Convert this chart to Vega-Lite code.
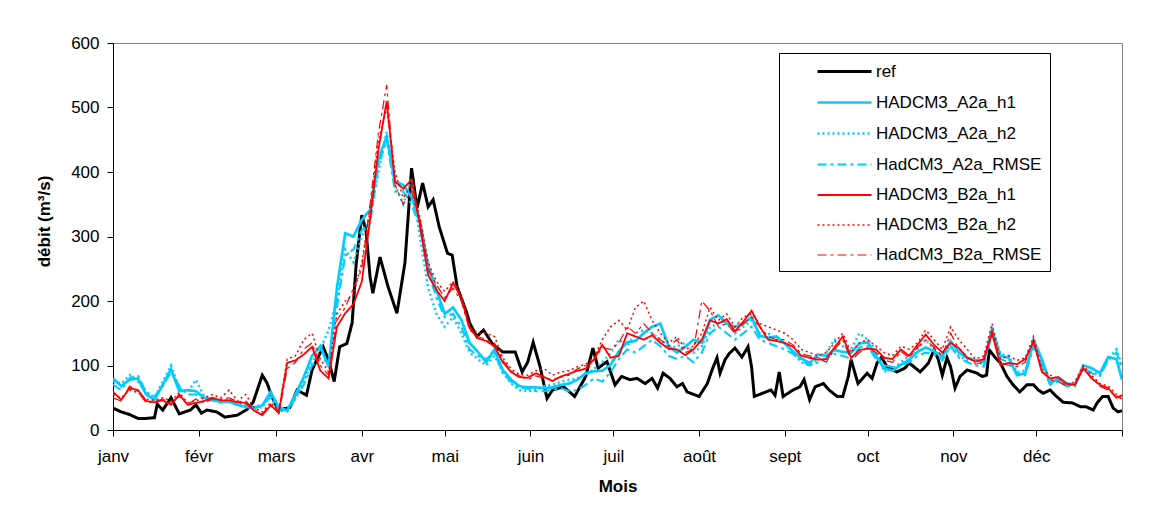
{
  "$schema": "https://vega.github.io/schema/vega-lite/v6.json",
  "autosize": {"type": "none"},
  "padding": {"left": 113, "top": 43, "right": 34, "bottom": 85},
  "width": 1009,
  "height": 387,
  "background": "white",
  "config": {
    "font": "Liberation Sans",
    "view": {"stroke": "#808080", "strokeWidth": 1}
  },
  "data": {"values": [
    {"d":0,"k0":34},{"d":3,"k0":28},{"d":6,"k0":24},{"d":9,"k0":18},{"d":12,"k0":18},{"d":15,"k0":19},{"d":16,"k0":40},{"d":18,"k0":31},{"d":21,"k0":50},{"d":24,"k0":25},{"d":28,"k0":31},{"d":30,"k0":39},{"d":32,"k0":26},{"d":34,"k0":31},{"d":37.5,"k0":28},{"d":40.5,"k0":20},{"d":45,"k0":23},{"d":48.5,"k0":32},{"d":50.7,"k0":43},{"d":54,"k0":85},{"d":55.7,"k0":73},{"d":57.5,"k0":52},{"d":59.7,"k0":31},{"d":62,"k0":33},{"d":64,"k0":35},{"d":66.6,"k0":62},{"d":70,"k0":54},{"d":72,"k0":93},{"d":76,"k0":129},{"d":78,"k0":108},{"d":80,"k0":75},{"d":82,"k0":129},{"d":84.6,"k0":134},{"d":86.5,"k0":166},{"d":88,"k0":259},{"d":90,"k0":333},{"d":91.5,"k0":310},{"d":93,"k0":237},{"d":94,"k0":212},{"d":96.6,"k0":268},{"d":99.5,"k0":222},{"d":102.7,"k0":181},{"d":105.6,"k0":259},{"d":108,"k0":406},{"d":110,"k0":344},{"d":112,"k0":383},{"d":114,"k0":346},{"d":115.8,"k0":357},{"d":118,"k0":315},{"d":121,"k0":274},{"d":122.7,"k0":271},{"d":124.5,"k0":222},{"d":128,"k0":181},{"d":129,"k0":166},{"d":131.6,"k0":145},{"d":134,"k0":155},{"d":137.5,"k0":132},{"d":141,"k0":121},{"d":145.5,"k0":121},{"d":148,"k0":90},{"d":150,"k0":105},{"d":152,"k0":136},{"d":154.5,"k0":98},{"d":157,"k0":49},{"d":159,"k0":62},{"d":163,"k0":67},{"d":167,"k0":52},{"d":171,"k0":83},{"d":173.6,"k0":127},{"d":175.5,"k0":96},{"d":178.7,"k0":106},{"d":181.6,"k0":70},{"d":184,"k0":83},{"d":187,"k0":78},{"d":189.6,"k0":80},{"d":192.5,"k0":72},{"d":195,"k0":80},{"d":197,"k0":65},{"d":199,"k0":88},{"d":201.5,"k0":80},{"d":204,"k0":67},{"d":206,"k0":72},{"d":207.7,"k0":59},{"d":212,"k0":52},{"d":215,"k0":72},{"d":216.7,"k0":93},{"d":218.5,"k0":112},{"d":219.6,"k0":88},{"d":221.4,"k0":109},{"d":223,"k0":119},{"d":225,"k0":127},{"d":227.5,"k0":113},{"d":229.7,"k0":129},{"d":231,"k0":98},{"d":232,"k0":52},{"d":235,"k0":57},{"d":238,"k0":62},{"d":239.5,"k0":54},{"d":241,"k0":90},{"d":242.4,"k0":52},{"d":246,"k0":62},{"d":248.5,"k0":67},{"d":250,"k0":78},{"d":252,"k0":47},{"d":254,"k0":67},{"d":257,"k0":72},{"d":259,"k0":62},{"d":262,"k0":52},{"d":264,"k0":52},{"d":266,"k0":83},{"d":267,"k0":109},{"d":269.5,"k0":72},{"d":272.8,"k0":88},{"d":274.6,"k0":80},{"d":276.4,"k0":104},{"d":278,"k0":113},{"d":280,"k0":98},{"d":283.6,"k0":90},{"d":286.5,"k0":96},{"d":288,"k0":104},{"d":292,"k0":90},{"d":295,"k0":104},{"d":297,"k0":124},{"d":298.5,"k0":110},{"d":300,"k0":85},{"d":301.7,"k0":112},{"d":303,"k0":98},{"d":304.6,"k0":65},{"d":306.4,"k0":83},{"d":309,"k0":93},{"d":312.6,"k0":88},{"d":314.4,"k0":83},{"d":316,"k0":85},{"d":317,"k0":124},{"d":319,"k0":113},{"d":321,"k0":104},{"d":323.4,"k0":83},{"d":325.6,"k0":70},{"d":328,"k0":59},{"d":330.6,"k0":70},{"d":333,"k0":70},{"d":334.7,"k0":62},{"d":336.5,"k0":57},{"d":339,"k0":62},{"d":340.8,"k0":54},{"d":343.7,"k0":43},{"d":347,"k0":42},{"d":350,"k0":36},{"d":352,"k0":36},{"d":354.6,"k0":31},{"d":356,"k0":42},{"d":358,"k0":52},{"d":360,"k0":52},{"d":361.8,"k0":34},{"d":363.6,"k0":28},{"d":365,"k0":30},
    {"d":0,"k1":80,"k2":75,"k3":70,"k4":59,"k5":55,"k6":50},
    {"d":3,"k1":68,"k2":72,"k3":62,"k4":47,"k5":50,"k6":45},
    {"d":6,"k1":78,"k2":85,"k3":80,"k4":65,"k5":62,"k6":68},
    {"d":9,"k1":80,"k2":75,"k3":85,"k4":62,"k5":58,"k6":60},
    {"d":12,"k1":55,"k2":60,"k3":58,"k4":45,"k5":48,"k6":42},
    {"d":15,"k1":47,"k2":50,"k3":52,"k4":43,"k5":46,"k6":44},
    {"d":18,"k1":70,"k2":75,"k3":68,"k4":46,"k5":50,"k6":48},
    {"d":21,"k1":94,"k2":100,"k3":90,"k4":39,"k5":45,"k6":42},
    {"d":24,"k1":60,"k2":65,"k3":68,"k4":55,"k5":58,"k6":52},
    {"d":27,"k1":62,"k2":58,"k3":55,"k4":39,"k5":42,"k6":40},
    {"d":30,"k1":60,"k2":78,"k3":55,"k4":42,"k5":45,"k6":48},
    {"d":33,"k1":50,"k2":52,"k3":48,"k4":45,"k5":50,"k6":42},
    {"d":36,"k1":46,"k2":48,"k3":50,"k4":50,"k5":55,"k6":48},
    {"d":39,"k1":44,"k2":45,"k3":42,"k4":46,"k5":50,"k6":48},
    {"d":42,"k1":44,"k2":48,"k3":46,"k4":46,"k5":62,"k6":50},
    {"d":45,"k1":39,"k2":42,"k3":40,"k4":43,"k5":45,"k6":44},
    {"d":48,"k1":36,"k2":40,"k3":38,"k4":42,"k5":55,"k6":45},
    {"d":51,"k1":34,"k2":36,"k3":35,"k4":30,"k5":35,"k6":32},
    {"d":54,"k1":38,"k2":35,"k3":40,"k4":23,"k5":28,"k6":25},
    {"d":57,"k1":59,"k2":55,"k3":50,"k4":38,"k5":42,"k6":40},
    {"d":60,"k1":35,"k2":32,"k3":30,"k4":28,"k5":30,"k6":25},
    {"d":63,"k1":30,"k2":32,"k3":28,"k4":104,"k5":110,"k6":95},
    {"d":66,"k1":55,"k2":48,"k3":50,"k4":108,"k5":115,"k6":105},
    {"d":69,"k1":82,"k2":75,"k3":70,"k4":117,"k5":140,"k6":125},
    {"d":72,"k1":115,"k2":105,"k3":100,"k4":129,"k5":150,"k6":135},
    {"d":75,"k1":130,"k2":125,"k3":110,"k4":92,"k5":110,"k6":100},
    {"d":78,"k1":98,"k2":155,"k3":105,"k4":80,"k5":90,"k6":85},
    {"d":81,"k1":220,"k2":200,"k3":190,"k4":160,"k5":180,"k6":170},
    {"d":84,"k1":305,"k2":280,"k3":270,"k4":181,"k5":200,"k6":190},
    {"d":87,"k1":300,"k2":260,"k3":280,"k4":195,"k5":210,"k6":220},
    {"d":90,"k1":326,"k2":300,"k3":310,"k4":230,"k5":260,"k6":250},
    {"d":93,"k1":341,"k2":330,"k3":320,"k4":326,"k5":340,"k6":350},
    {"d":96,"k1":420,"k2":400,"k3":410,"k4":434,"k5":450,"k6":460},
    {"d":99,"k1":455,"k2":462,"k3":450,"k4":510,"k5":500,"k6":535},
    {"d":102,"k1":385,"k2":380,"k3":370,"k4":385,"k5":400,"k6":380},
    {"d":105,"k1":380,"k2":350,"k3":370,"k4":374,"k5":360,"k6":350},
    {"d":108,"k1":361,"k2":390,"k3":350,"k4":388,"k5":380,"k6":370},
    {"d":111,"k1":325,"k2":300,"k3":315,"k4":318,"k5":330,"k6":325},
    {"d":114,"k1":255,"k2":220,"k3":245,"k4":240,"k5":260,"k6":250},
    {"d":117,"k1":217,"k2":180,"k3":205,"k4":217,"k5":230,"k6":225},
    {"d":120,"k1":180,"k2":160,"k3":175,"k4":200,"k5":215,"k6":205},
    {"d":123,"k1":190,"k2":175,"k3":180,"k4":228,"k5":230,"k6":220},
    {"d":126,"k1":171,"k2":150,"k3":160,"k4":205,"k5":210,"k6":200},
    {"d":129,"k1":135,"k2":120,"k3":125,"k4":158,"k5":160,"k6":155},
    {"d":132,"k1":121,"k2":110,"k3":115,"k4":142,"k5":150,"k6":145},
    {"d":135,"k1":105,"k2":100,"k3":110,"k4":138,"k5":150,"k6":140},
    {"d":138,"k1":125,"k2":115,"k3":120,"k4":130,"k5":145,"k6":135},
    {"d":141,"k1":93,"k2":90,"k3":88,"k4":105,"k5":112,"k6":108},
    {"d":144,"k1":78,"k2":72,"k3":75,"k4":90,"k5":95,"k6":92},
    {"d":147,"k1":68,"k2":62,"k3":65,"k4":82,"k5":86,"k6":84},
    {"d":150,"k1":66,"k2":60,"k3":64,"k4":81,"k5":85,"k6":78},
    {"d":153,"k1":66,"k2":62,"k3":60,"k4":88,"k5":92,"k6":84},
    {"d":156,"k1":65,"k2":68,"k3":60,"k4":82,"k5":95,"k6":80},
    {"d":159,"k1":66,"k2":70,"k3":62,"k4":76,"k5":85,"k6":78},
    {"d":162,"k1":70,"k2":75,"k3":65,"k4":83,"k5":90,"k6":82},
    {"d":165,"k1":72,"k2":78,"k3":60,"k4":87,"k5":92,"k6":85},
    {"d":168,"k1":78,"k2":80,"k3":62,"k4":92,"k5":98,"k6":95},
    {"d":171,"k1":88,"k2":85,"k3":70,"k4":95,"k5":102,"k6":100},
    {"d":174,"k1":91,"k2":95,"k3":80,"k4":110,"k5":112,"k6":108},
    {"d":177,"k1":92,"k2":105,"k3":75,"k4":132,"k5":140,"k6":128},
    {"d":180,"k1":101,"k2":120,"k3":90,"k4":112,"k5":160,"k6":125},
    {"d":183,"k1":122,"k2":140,"k3":110,"k4":115,"k5":170,"k6":135},
    {"d":186,"k1":136,"k2":130,"k3":125,"k4":150,"k5":155,"k6":160},
    {"d":189,"k1":138,"k2":150,"k3":120,"k4":145,"k5":190,"k6":150},
    {"d":192,"k1":150,"k2":155,"k3":130,"k4":140,"k5":200,"k6":165},
    {"d":195,"k1":160,"k2":150,"k3":140,"k4":147,"k5":170,"k6":150},
    {"d":198,"k1":165,"k2":140,"k3":130,"k4":135,"k5":150,"k6":140},
    {"d":201,"k1":130,"k2":125,"k3":115,"k4":126,"k5":135,"k6":130},
    {"d":204,"k1":120,"k2":130,"k3":110,"k4":125,"k5":145,"k6":140},
    {"d":207,"k1":129,"k2":135,"k3":115,"k4":116,"k5":125,"k6":120},
    {"d":210,"k1":140,"k2":120,"k3":105,"k4":125,"k5":130,"k6":125},
    {"d":213,"k1":135,"k2":130,"k3":120,"k4":140,"k5":150,"k6":200},
    {"d":216,"k1":171,"k2":160,"k3":150,"k4":170,"k5":190,"k6":185},
    {"d":219,"k1":178,"k2":165,"k3":160,"k4":165,"k5":170,"k6":160},
    {"d":222,"k1":165,"k2":170,"k3":150,"k4":172,"k5":180,"k6":165},
    {"d":225,"k1":160,"k2":150,"k3":140,"k4":153,"k5":160,"k6":150},
    {"d":228,"k1":165,"k2":160,"k3":150,"k4":168,"k5":175,"k6":165},
    {"d":231,"k1":175,"k2":170,"k3":160,"k4":185,"k5":180,"k6":175},
    {"d":234,"k1":146,"k2":150,"k3":140,"k4":160,"k5":165,"k6":160},
    {"d":237,"k1":143,"k2":150,"k3":135,"k4":140,"k5":160,"k6":145},
    {"d":240,"k1":145,"k2":140,"k3":130,"k4":138,"k5":155,"k6":140},
    {"d":243,"k1":134,"k2":135,"k3":125,"k4":135,"k5":150,"k6":140},
    {"d":246,"k1":122,"k2":120,"k3":118,"k4":129,"k5":140,"k6":132},
    {"d":249,"k1":111,"k2":105,"k3":108,"k4":115,"k5":125,"k6":118},
    {"d":252,"k1":104,"k2":100,"k3":100,"k4":112,"k5":120,"k6":115},
    {"d":255,"k1":117,"k2":110,"k3":105,"k4":109,"k5":115,"k6":112},
    {"d":258,"k1":115,"k2":120,"k3":110,"k4":110,"k5":120,"k6":105},
    {"d":261,"k1":124,"k2":140,"k3":118,"k4":128,"k5":135,"k6":125},
    {"d":264,"k1":121,"k2":130,"k3":115,"k4":145,"k5":150,"k6":140},
    {"d":267,"k1":120,"k2":125,"k3":110,"k4":112,"k5":120,"k6":108},
    {"d":270,"k1":134,"k2":150,"k3":128,"k4":124,"k5":135,"k6":120},
    {"d":273,"k1":136,"k2":140,"k3":130,"k4":126,"k5":140,"k6":128},
    {"d":276,"k1":115,"k2":125,"k3":110,"k4":125,"k5":130,"k6":120},
    {"d":279,"k1":95,"k2":90,"k3":100,"k4":112,"k5":120,"k6":108},
    {"d":282,"k1":92,"k2":95,"k3":98,"k4":110,"k5":115,"k6":105},
    {"d":285,"k1":101,"k2":105,"k3":100,"k4":125,"k5":130,"k6":122},
    {"d":288,"k1":109,"k2":115,"k3":105,"k4":115,"k5":125,"k6":112},
    {"d":291,"k1":121,"k2":125,"k3":115,"k4":132,"k5":135,"k6":128},
    {"d":294,"k1":128,"k2":140,"k3":120,"k4":148,"k5":155,"k6":140},
    {"d":297,"k1":122,"k2":125,"k3":118,"k4":132,"k5":140,"k6":128},
    {"d":300,"k1":114,"k2":110,"k3":108,"k4":120,"k5":125,"k6":115},
    {"d":303,"k1":138,"k2":130,"k3":130,"k4":135,"k5":160,"k6":150},
    {"d":306,"k1":120,"k2":115,"k3":112,"k4":127,"k5":140,"k6":125},
    {"d":309,"k1":112,"k2":108,"k3":105,"k4":112,"k5":125,"k6":115},
    {"d":312,"k1":108,"k2":110,"k3":100,"k4":106,"k5":110,"k6":102},
    {"d":315,"k1":106,"k2":100,"k3":98,"k4":110,"k5":115,"k6":105},
    {"d":318,"k1":155,"k2":160,"k3":150,"k4":150,"k5":165,"k6":155},
    {"d":321,"k1":115,"k2":118,"k3":110,"k4":101,"k5":110,"k6":105},
    {"d":324,"k1":112,"k2":115,"k3":105,"k4":104,"k5":115,"k6":100},
    {"d":327,"k1":85,"k2":90,"k3":88,"k4":102,"k5":108,"k6":98},
    {"d":330,"k1":88,"k2":92,"k3":85,"k4":110,"k5":112,"k6":105},
    {"d":333,"k1":140,"k2":135,"k3":130,"k4":137,"k5":145,"k6":140},
    {"d":336,"k1":110,"k2":105,"k3":100,"k4":90,"k5":95,"k6":92},
    {"d":339,"k1":72,"k2":75,"k3":70,"k4":80,"k5":85,"k6":78},
    {"d":342,"k1":80,"k2":78,"k3":76,"k4":82,"k5":80,"k6":75},
    {"d":345,"k1":72,"k2":70,"k3":68,"k4":72,"k5":70,"k6":68},
    {"d":348,"k1":70,"k2":72,"k3":68,"k4":70,"k5":75,"k6":72},
    {"d":351,"k1":100,"k2":95,"k3":98,"k4":96,"k5":100,"k6":95},
    {"d":354,"k1":96,"k2":90,"k3":88,"k4":80,"k5":85,"k6":82},
    {"d":357,"k1":88,"k2":85,"k3":84,"k4":70,"k5":72,"k6":68},
    {"d":360,"k1":113,"k2":110,"k3":108,"k4":65,"k5":68,"k6":62},
    {"d":363,"k1":110,"k2":125,"k3":120,"k4":50,"k5":55,"k6":52},
    {"d":365,"k1":78,"k2":100,"k3":95,"k4":54,"k5":50,"k6":48}
  ]},
  "transform": [
    {"fold": ["k0","k1","k2","k3","k4","k5","k6"], "as": ["series","v"]},
    {"filter": "isValid(datum.v)"}
  ],
  "mark": {"type": "line", "clip": true},
  "encoding": {
    "x": {
      "field": "d", "type": "quantitative",
      "scale": {"domain": [0, 365], "nice": false, "zero": false},
      "axis": {
        "title": "Mois",
        "values": [0,31,59,90,120,151,181,212,243,273,304,334,365],
        "labelExpr": "['janv','févr','mars','avr','mai','juin','juil','août','sept','oct','nov','déc',''][indexof([0,31,59,90,120,151,181,212,243,273,304,334,365], datum.value)]",
        "grid": false, "domainColor": "black", "tickColor": "black",
        "tickSize": 6, "labelPadding": 12, "labelFontSize": 17, "labelColor": "black",
        "labelOverlap": false, "labelBound": false, "labelFlush": false,
        "titleFontSize": 17, "titleFontWeight": "bold", "titleColor": "black", "titlePadding": 14
      }
    },
    "y": {
      "field": "v", "type": "quantitative",
      "scale": {"domain": [0, 600], "nice": false},
      "axis": {
        "title": "débit (m³/s)",
        "values": [0,100,200,300,400,500,600],
        "grid": false, "domainColor": "black", "tickColor": "black",
        "tickSize": 6, "labelPadding": 8, "labelFontSize": 17, "labelColor": "black",
        "titleFontSize": 17, "titleFontWeight": "bold", "titleColor": "black",
        "titleX": -60, "titleY": 178, "titleAngle": 270, "titleAlign": "center"
      }
    },
    "color": {
      "field": "series", "type": "nominal",
      "scale": {"domain": ["k0","k1","k2","k3","k4","k5","k6"], "range": ["black","#00CCFF","#00CCFF","#00CCFF","#FF0000","#FF0000","#FF0000"]},
      "legend": {
        "title": null, "orient": "none", "legendX": 666, "legendY": 10,
        "strokeColor": "black", "fillColor": "white", "padding": 8,
        "symbolType": "M-3,0H3", "symbolSize": 324, "symbolOffset": 47, "labelOffset": 21,
        "labelFontSize": 17, "labelColor": "black", "rowPadding": 12, "labelLimit": 500,
        "labelExpr": "{'k0':'ref','k1':'HADCM3_A2a_h1','k2':'HADCM3_A2a_h2','k3':'HadCM3_A2a_RMSE','k4':'HADCM3_B2a_h1','k5':'HADCM3_B2a_h2','k6':'HadCM3_B2a_RMSE'}[datum.label]"
      }
    },
    "strokeDash": {
      "field": "series", "type": "nominal",
      "scale": {"domain": ["k0","k1","k2","k3","k4","k5","k6"], "range": [[1,0],[1,0],[2,3],[9,4,3,4],[1,0],[2,3],[9,4,3,4]]},
      "legend": null
    },
    "strokeWidth": {
      "field": "series", "type": "nominal",
      "scale": {"domain": ["k0","k1","k2","k3","k4","k5","k6"], "range": [3,1.2,1.5,1.5,1.2,1.5,1.5]},
      "legend": null
    }
  }
}
